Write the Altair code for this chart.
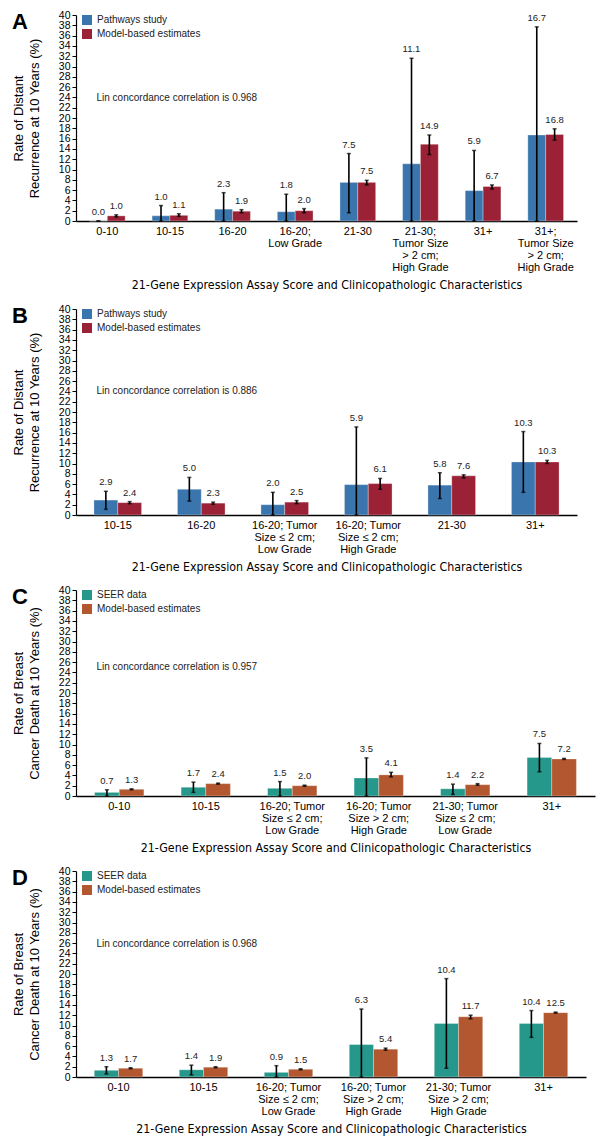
import altair as alt
import pandas as pd

# ---------------- data ----------------
X_TITLE = "21-Gene Expression Assay Score and Clinicopathologic Characteristics"

A_CATEGORIES = ["0-10", "10-15", "16-20", "16-20;|Low Grade", "21-30",
                "21-30;|Tumor Size|> 2 cm;|High Grade", "31+",
                "31+;|Tumor Size|> 2 cm;|High Grade"]
A_SERIES = ["Pathways study", "Model-based estimates"]
A_OBS = [0.0, 1.0, 2.3, 1.8, 7.5, 11.1, 5.9, 16.7]
A_OBS_LO = [0.0, 0.0, 0.0, 0.0, 1.6, 0.0, 0.0, 0.0]
A_OBS_HI = [0.0, 3.0, 5.5, 5.2, 13.1, 31.6, 13.7, 37.7]
A_MOD = [1.0, 1.1, 1.9, 2.0, 7.5, 14.9, 6.7, 16.8]
A_MOD_LO = [0.8, 0.9, 1.6, 1.6, 7.0, 12.9, 6.2, 15.7]
A_MOD_HI = [1.2, 1.4, 2.2, 2.4, 7.9, 16.7, 7.0, 17.9]
A_NOTE = "Lin concordance correlation is 0.968"

B_CATEGORIES = ["10-15", "16-20", "16-20; Tumor|Size \u2264 2 cm;|Low Grade",
                "16-20; Tumor|Size \u2264 2 cm;|High Grade", "21-30", "31+"]
B_SERIES = ["Pathways study", "Model-based estimates"]
B_OBS = [2.9, 5.0, 2.0, 5.9, 5.8, 10.3]
B_OBS_LO = [1.1, 2.7, 0.0, 0.0, 3.2, 4.4]
B_OBS_HI = [4.6, 7.3, 4.4, 17.1, 8.2, 16.2]
B_MOD = [2.4, 2.3, 2.5, 6.1, 7.6, 10.3]
B_MOD_LO = [2.2, 2.1, 2.2, 5.0, 7.2, 10.0]
B_MOD_HI = [2.6, 2.5, 2.8, 7.1, 7.8, 10.6]
B_NOTE = "Lin concordance correlation is 0.886"

C_CATEGORIES = ["0-10", "10-15", "16-20; Tumor|Size \u2264 2 cm;|Low Grade",
                "16-20; Tumor|Size > 2 cm;|High Grade",
                "21-30; Tumor|Size \u2264 2 cm;|Low Grade", "31+"]
C_SERIES = ["SEER data", "Model-based estimates"]
C_OBS = [0.7, 1.7, 1.5, 3.5, 1.4, 7.5]
C_OBS_LO = [0.0, 0.7, 0.0, 0.0, 0.3, 4.7]
C_OBS_HI = [1.2, 2.7, 2.8, 7.4, 2.3, 10.2]
C_MOD = [1.3, 2.4, 2.0, 4.1, 2.2, 7.2]
C_MOD_LO = [1.2, 2.3, 1.9, 3.7, 2.1, 7.1]
C_MOD_HI = [1.4, 2.5, 2.1, 4.6, 2.4, 7.3]
C_NOTE = "Lin concordance correlation is 0.957"

D_CATEGORIES = ["0-10", "10-15", "16-20; Tumor|Size \u2264 2 cm;|Low Grade",
                "16-20; Tumor|Size > 2 cm;|High Grade",
                "21-30; Tumor|Size > 2 cm;|High Grade", "31+"]
D_SERIES = ["SEER data", "Model-based estimates"]
D_OBS = [1.3, 1.4, 0.9, 6.3, 10.4, 10.4]
D_OBS_LO = [0.6, 0.4, 0.0, 0.0, 1.7, 7.7]
D_OBS_HI = [2.0, 2.3, 2.2, 13.2, 19.1, 12.9]
D_MOD = [1.7, 1.9, 1.5, 5.4, 11.7, 12.5]
D_MOD_LO = [1.6, 1.8, 1.4, 5.2, 11.3, 12.4]
D_MOD_HI = [1.8, 2.0, 1.6, 5.6, 12.0, 12.6]
D_NOTE = "Lin concordance correlation is 0.968"

Y_TICKS = [0, 2, 4, 6, 8, 10, 12, 14, 16, 18, 20, 22, 24, 26, 28, 30, 32, 34, 36, 38, 40]
Y_TITLE_RECURRENCE = ["Rate of Distant", "Recurrence at 10 Years (%)"]
Y_TITLE_DEATH = ["Rate of Breast", "Cancer Death at 10 Years (%)"]

BLUE_RED = ["#3a75ad", "#9b2236"]
TEAL_ORANGE = ["#25978b", "#b2572f"]

FONT = "Liberation Sans"
NARROW = "DejaVu Sans Condensed"


def panel(letter, cats, names, colors, obs, obs_lo, obs_hi, mod, mod_lo, mod_hi,
          ytitle, width, note, note_y):
    rows = []
    for i, c in enumerate(cats):
        rows.append(dict(cat=c, series=names[0], value=obs[i], lo=obs_lo[i], hi=obs_hi[i]))
        rows.append(dict(cat=c, series=names[1], value=mod[i], lo=mod_lo[i], hi=mod_hi[i]))
    df = pd.DataFrame(rows)
    df["top"] = df[["value", "hi"]].max(axis=1)

    x_axis = alt.Axis(title=X_TITLE, labelExpr="split(datum.label, '|')",
                      labelAngle=0, ticks=False, labelPadding=4,
                      labelFontSize=11, labelLineHeight=12.3,
                      labelColor="black", domainColor="black", domainWidth=1.5,
                      titleFont=NARROW, titleFontSize=12.3,
                      titleFontWeight="normal", titleColor="black",
                      titlePadding=6)
    y_axis = alt.Axis(values=Y_TICKS, title=ytitle,
                      grid=False, tickSize=4, tickColor="black",
                      domainColor="black", domainWidth=1.2,
                      labelFontSize=10.5, labelColor="black", labelPadding=2,
                      labelOverlap=False,
                      titleFontSize=13, titleFontWeight="normal",
                      titleColor="black", titleLineHeight=15.5,
                      titlePadding=17)
    yscale = alt.Scale(domain=[0, 40], nice=False)
    x = alt.X("cat:N", sort=cats,
              scale=alt.Scale(paddingInner=0.43, paddingOuter=0.215), axis=x_axis)
    xo = alt.XOffset("series:N", sort=names,
                     scale=alt.Scale(paddingInner=0, paddingOuter=0))

    def yq(field):
        return alt.Y(field + ":Q", scale=yscale, axis=y_axis)

    base = alt.Chart(df)
    bars = base.mark_bar(stroke="white", strokeWidth=0.6, strokeOpacity=0.5).encode(
        x=x, xOffset=xo, y=yq("value"),
        color=alt.Color("series:N", sort=names,
                        scale=alt.Scale(domain=names, range=colors),
                        legend=alt.Legend(orient="none", legendX=6, legendY=0,
                                          title=None, symbolType="square",
                                          symbolSize=100, symbolStrokeWidth=0,
                                          symbolOpacity=1,
                                          labelFontSize=10, labelColor="#222",
                                          rowPadding=4, labelOffset=5)))
    rules = base.mark_rule(color="black", strokeWidth=1.6).encode(
        x=x, xOffset=xo, y=yq("lo"), y2="hi:Q")
    caps_hi = base.mark_tick(color="black", size=4, thickness=1.5,
                             orient="horizontal").encode(x=x, xOffset=xo, y=yq("hi"))
    caps_lo = base.mark_tick(color="black", size=4, thickness=1.5,
                             orient="horizontal").encode(x=x, xOffset=xo, y=yq("lo"))
    labels = base.mark_text(baseline="bottom", dy=-4, fontSize=9.5, color="#222").encode(
        x=x, xOffset=xo, y=yq("top"),
        text=alt.Text("value:Q", format=".1f"))
    note_layer = alt.Chart(pd.DataFrame({"t": [note]})).mark_text(
        align="left", baseline="middle", fontSize=10, color="#222").encode(
        x=alt.value(20.5), y=alt.value(note_y), text="t:N")
    letter_layer = alt.Chart(pd.DataFrame({"t": [letter]})).mark_text(
        align="left", baseline="top", fontSize=22, fontWeight="bold",
        color="black").encode(x=alt.value(-64), y=alt.value(-3), text="t:N")
    return alt.layer(bars, rules, caps_hi, caps_lo, labels, note_layer,
                     letter_layer).properties(width=width, height=206)


pa = panel("A", A_CATEGORIES, A_SERIES, BLUE_RED, A_OBS, A_OBS_LO, A_OBS_HI,
           A_MOD, A_MOD_LO, A_MOD_HI, Y_TITLE_RECURRENCE, 501, A_NOTE, 82.7)
pb = panel("B", B_CATEGORIES, B_SERIES, BLUE_RED, B_OBS, B_OBS_LO, B_OBS_HI,
           B_MOD, B_MOD_LO, B_MOD_HI, Y_TITLE_RECURRENCE, 501, B_NOTE, 81.7)
pc = panel("C", C_CATEGORIES, C_SERIES, TEAL_ORANGE, C_OBS, C_OBS_LO, C_OBS_HI,
           C_MOD, C_MOD_LO, C_MOD_HI, Y_TITLE_DEATH, 519, C_NOTE, 77.3)
pd_ = panel("D", D_CATEGORIES, D_SERIES, TEAL_ORANGE, D_OBS, D_OBS_LO, D_OBS_HI,
            D_MOD, D_MOD_LO, D_MOD_HI, Y_TITLE_DEATH, 510, D_NOTE, 72.6)

chart = alt.vconcat(pa, pb, pc, pd_, spacing=12).resolve_scale(
    color="independent", x="independent", y="independent", xOffset="independent"
).resolve_legend(color="independent").properties(
    padding={"left": 4, "top": 2, "right": 2, "bottom": 2},
    background="white",
).configure(font=FONT).configure_view(stroke=None)

chart.save("out.html", embed_options={"renderer": "svg", "actions": False})
